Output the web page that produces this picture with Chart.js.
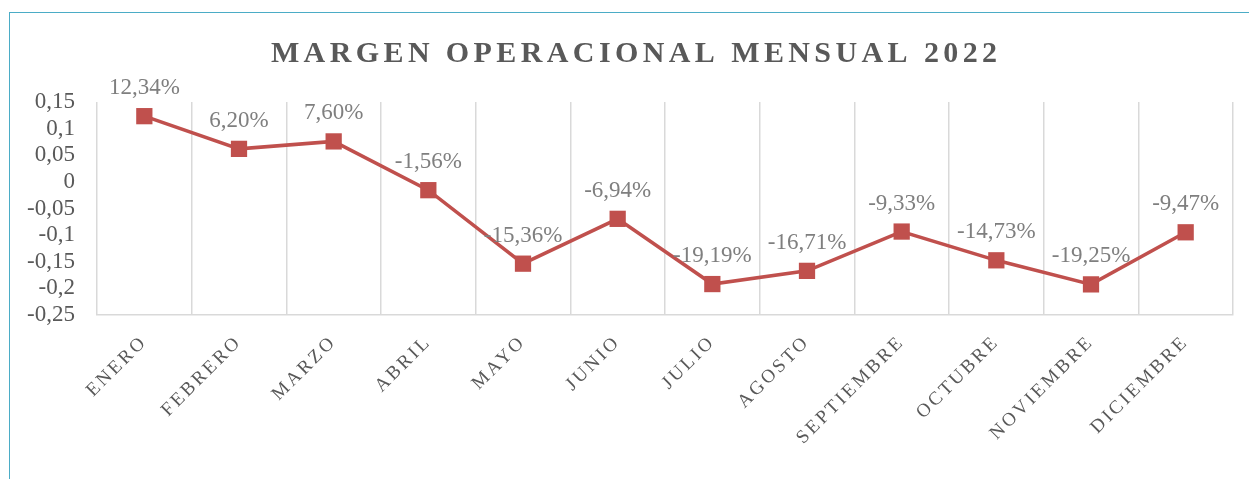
<!DOCTYPE html>
<html>
<head>
<meta charset="utf-8">
<script src="https://cdn.jsdelivr.net/npm/chart.js@4"></script>
<style>
  body { margin: 0; background: #fff; }
  #wrap { position: relative; width: 1249px; height: 479px; overflow: hidden; }
  #marco { position: absolute; left: 9px; top: 12px; width: 1300px; height: 520px;
           border-left: 1.5px solid #4bacc6; border-top: 1.5px solid #4bacc6; }
  canvas { position: absolute; left: 0; top: 0; }
</style>
</head>
<body>
<div id="wrap">
  <div id="marco"></div>
  <canvas id="grafico" width="1249" height="479"></canvas>
</div>
<script>
// datos
const meses = ['ENERO', 'FEBRERO', 'MARZO', 'ABRIL', 'MAYO', 'JUNIO', 'JULIO',
               'AGOSTO', 'SEPTIEMBRE', 'OCTUBRE', 'NOVIEMBRE', 'DICIEMBRE'];
const margen = [0.1234, 0.0620, 0.0760, -0.0156, -0.1536, -0.0694, -0.1919,
                -0.1671, -0.0933, -0.1473, -0.1925, -0.0947];
const ejeY = { min: -0.25, max: 0.15, paso: 0.05 };
const titulo = 'MARGEN OPERACIONAL MENSUAL 2022';

const fuente = "'Liberation Serif', 'Times New Roman', serif";

const etiquetasPlugin = {
    id: 'etiquetas',
    beforeDraw(chart) {
        chart.ctx.letterSpacing = '0px';
    },
    afterDatasetsDraw(chart) {
        const ctx = chart.ctx;
        const meta = chart.getDatasetMeta(0);
        ctx.save();
        ctx.letterSpacing = '0px';
        ctx.font = '23px ' + fuente;
        ctx.fillStyle = '#7f7f7f';
        ctx.textAlign = 'center';
        ctx.textBaseline = 'alphabetic';
        meta.data.forEach((pt, i) => {
            const txt = (margen[i] * 100).toFixed(2).replace('.', ',') + '%';
            ctx.fillText(txt, pt.x, pt.y - 22);
        });
        ctx.restore();
        // espaciado para las etiquetas del eje x (se dibujan despues, z = 1)
        ctx.letterSpacing = '2.8px';
    },
    afterDraw(chart) {
        const ctx = chart.ctx;
        ctx.letterSpacing = '0px';
        ctx.save();
        ctx.letterSpacing = '4.4px';
        ctx.font = 'bold 30px ' + fuente;
        ctx.fillStyle = '#595959';
        ctx.textAlign = 'center';
        ctx.textBaseline = 'alphabetic';
        ctx.fillText(titulo, 634 + 2.2, 62);
        ctx.restore();
    }
};

const ctx = document.getElementById('grafico').getContext('2d');
const grafico = new Chart(ctx, {
    type: 'line',
    data: {
        labels: meses,
        datasets: [{
            label: 'Margen operacional',
            data: margen,
            borderColor: '#c0504d',
            backgroundColor: '#c0504d',
            borderWidth: 3.5,
            pointStyle: 'rect',
            pointRadius: 11.5,
            pointHoverRadius: 11.5,
            pointBorderWidth: 0,
            tension: 0,
            clip: false
        }]
    },
    options: {
        responsive: false,
        animation: false,
        devicePixelRatio: 1,
        layout: { padding: { left: 0, top: 102, right: 16, bottom: 0 } },
        plugins: {
            legend: { display: false },
            title: { display: false },
            tooltip: { enabled: false }
        },
        scales: {
            x: {
                offset: true,
                grid: { display: true, offset: true, color: '#d9d9d9', lineWidth: 1.5, drawTicks: false },
                border: { display: true, color: '#d9d9d9', width: 1.5 },
                ticks: {
                    z: 1,
                    autoSkip: false,
                    maxRotation: 45,
                    minRotation: 45,
                    padding: 16,
                    color: '#595959',
                    font: { family: fuente, size: 19 }
                },
                afterFit: (scale) => { scale.height = 479 - 315; }
            },
            y: {
                min: ejeY.min,
                max: ejeY.max,
                grid: { display: false, drawTicks: false },
                border: { display: false },
                ticks: {
                    stepSize: ejeY.paso,
                    autoSkip: false,
                    padding: 22,
                    color: '#595959',
                    font: { family: fuente, size: 23 },
                    callback: (v) => {
                        const n = Number(v.toFixed(2));
                        return (n === 0 ? '0' : String(n)).replace('.', ',');
                    }
                },
                afterFit: (scale) => { scale.width = 97; }
            }
        }
    },
    plugins: [etiquetasPlugin]
});
</script>
</body>
</html>
